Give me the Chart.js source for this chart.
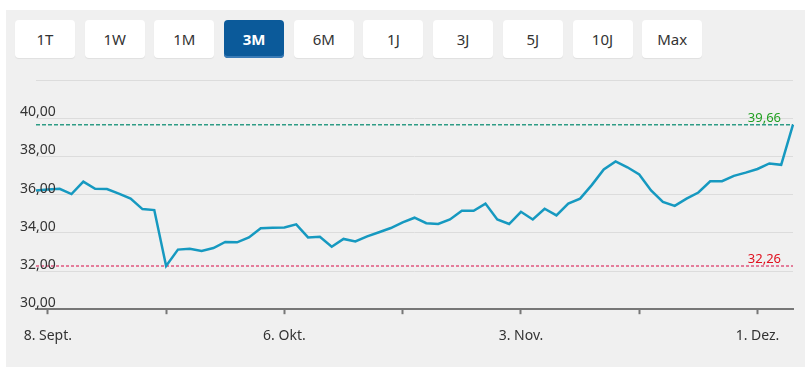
<!DOCTYPE html>
<html lang="de">
<head>
  <meta charset="UTF-8">
  <title>Kursverlauf 3M</title>
  <script src="https://cdn.jsdelivr.net/npm/chart.js"></script>
  <style>
    body {
      margin: 0;
      width: 810px;
      height: 375px;
      position: relative;
      overflow: hidden;
      background: #fff;
      font-family: 'Noto Sans', sans-serif;
    }
    .panel {
      position: absolute;
      left: 6px;
      top: 10px;
      width: 799px;
      height: 357px;
      background: #f0f0f0;
    }
    .ranges {
      position: absolute;
      left: 15px;
      top: 20px;
      display: flex;
      gap: 9.7px;
    }
    .ranges button {
      width: 60px;
      height: 38px;
      padding: 0;
      border: none;
      border-radius: 4px;
      background: #fff;
      color: #333;
      font-family: inherit;
      font-size: 15px;
      box-shadow: 0 1px 1px rgba(0, 0, 0, 0.07);
    }
    .ranges button.active {
      background: #0b5a9a;
      color: #fff;
      font-weight: 700;
      box-shadow: inset 0 -2px 0 #3a7bb6;
    }
    canvas {
      position: absolute;
      left: 0;
      top: 0;
    }
  </style>
</head>
<body>
  <div class="panel"></div>
  <div class="ranges">
    <button>1T</button>
    <button>1W</button>
    <button>1M</button>
    <button class="active">3M</button>
    <button>6M</button>
    <button>1J</button>
    <button>3J</button>
    <button>5J</button>
    <button>10J</button>
    <button>Max</button>
  </div>
  <canvas id="chart" width="810" height="375"></canvas>

<script>
// trading days, 5 Sep - 4 Dec
const days = [
  '05.09.', '08.09.', '09.09.', '10.09.', '11.09.', '12.09.', '15.09.', '16.09.', '17.09.', '18.09.',
  '19.09.', '22.09.', '23.09.', '24.09.', '25.09.', '26.09.', '29.09.', '30.09.', '01.10.', '02.10.',
  '03.10.', '06.10.', '07.10.', '08.10.', '09.10.', '10.10.', '13.10.', '14.10.', '15.10.', '16.10.',
  '17.10.', '20.10.', '21.10.', '22.10.', '23.10.', '24.10.', '27.10.', '28.10.', '29.10.', '30.10.',
  '31.10.', '03.11.', '04.11.', '05.11.', '06.11.', '07.11.', '10.11.', '11.11.', '12.11.', '13.11.',
  '14.11.', '17.11.', '18.11.', '19.11.', '20.11.', '21.11.', '24.11.', '25.11.', '26.11.', '27.11.',
  '28.11.', '01.12.', '02.12.', '03.12.', '04.12.'
];
const prices = [
  36.22, 36.27, 36.30, 36.03, 36.68, 36.30, 36.29, 36.05, 35.79, 35.24,
  35.19, 32.26, 33.12, 33.17, 33.05, 33.20, 33.52, 33.50, 33.76, 34.24,
  34.27, 34.28, 34.44, 33.76, 33.79, 33.27, 33.68, 33.55, 33.81, 34.03,
  34.25, 34.55, 34.79, 34.50, 34.46, 34.70, 35.15, 35.15, 35.53, 34.70,
  34.46, 35.10, 34.70, 35.26, 34.91, 35.53, 35.79, 36.51, 37.32, 37.74,
  37.43, 37.05, 36.22, 35.62, 35.41, 35.79, 36.11, 36.70, 36.70, 36.98,
  37.15, 37.34, 37.63, 37.56, 39.66
];
const xTickIdx = [1, 11, 21, 31, 41, 51, 61];
const xLabelIdx = [1, 21, 41, 61];
const xLabelText = ['8. Sept.', '6. Okt.', '3. Nov.', '1. Dez.'];
const yMin = 30, yMax = 42, yStep = 2;
const highValue = 39.66;
const lowValue = 32.26;

const fmt = v => v.toFixed(2).replace('.', ',');

// min / max reference lines
const refLines = {
  id: 'refLines',
  beforeDatasetsDraw(chart) {
    const { ctx, chartArea: a, scales: { y } } = chart;
    const lines = [
      [highValue, '#2e9c85', '#22a022', [4, 2]],
      [lowValue, '#e0567e', '#e0101e', [3, 2]]
    ];
    lines.forEach(([v, lineColor, textColor, dash]) => {
      const py = y.getPixelForValue(v);
      ctx.save();
      ctx.strokeStyle = lineColor;
      ctx.lineWidth = 1.5;
      ctx.setLineDash(dash);
      ctx.beginPath();
      ctx.moveTo(a.left, py);
      ctx.lineTo(a.right, py);
      ctx.stroke();
      ctx.setLineDash([]);
      ctx.fillStyle = textColor;
      ctx.font = '13px "Noto Sans"';
      ctx.textAlign = 'right';
      ctx.textBaseline = 'alphabetic';
      ctx.fillText(fmt(v), a.right - 12, py - 3);
      ctx.restore();
    });
  }
};

// y labels sit above their grid line, starting left of the plot
const yLabels = {
  id: 'yLabels',
  afterDraw(chart) {
    const { ctx, scales: { y } } = chart;
    ctx.save();
    ctx.fillStyle = '#333';
    ctx.font = '14px "Noto Sans"';
    ctx.textAlign = 'left';
    ctx.textBaseline = 'middle';
    y.ticks.forEach(t => {
      if (t.value === yMax) return;
      ctx.fillText(fmt(t.value), 20, y.getPixelForValue(t.value) - 6);
    });
    ctx.restore();
  }
};

new Chart(document.getElementById('chart'), {
  type: 'line',
  data: {
    labels: days,
    datasets: [{
      data: prices,
      borderColor: '#1699c0',
      borderWidth: 2.5,
      pointRadius: 0,
      tension: 0,
      fill: false
    }]
  },
  options: {
    responsive: false,
    animation: false,
    layout: { padding: { left: 36, right: 17, top: 80, bottom: 18 } },
    plugins: {
      legend: { display: false },
      tooltip: { enabled: false }
    },
    scales: {
      x: {
        grid: {
          drawOnChartArea: false,
          drawTicks: true,
          tickLength: 5,
          tickWidth: 2,
          tickColor: c => xTickIdx.includes(c.index) ? '#777' : 'rgba(0,0,0,0)'
        },
        border: { display: true, color: '#777', width: 2 },
        ticks: {
          autoSkip: false,
          maxRotation: 0,
          padding: 13,
          color: '#333',
          font: { family: 'Noto Sans', size: 14 },
          callback: (v, i) => {
            const k = xLabelIdx.indexOf(i);
            return k >= 0 ? xLabelText[k] : '';
          }
        }
      },
      y: {
        min: yMin,
        max: yMax,
        grid: { color: '#dcdcdc', lineWidth: 1, drawTicks: false },
        border: { display: false },
        ticks: { stepSize: yStep, display: false }
      }
    }
  },
  plugins: [refLines, yLabels]
});
</script>
</body>
</html>
